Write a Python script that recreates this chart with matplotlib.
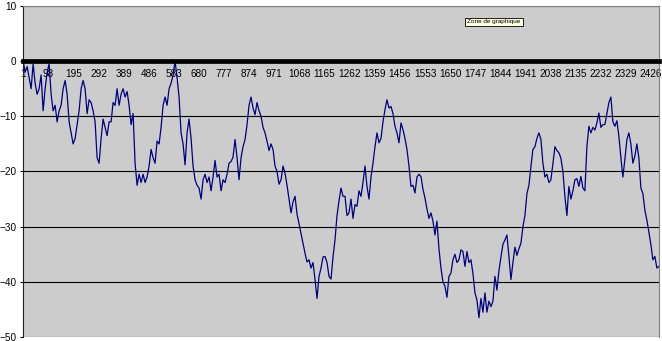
import numpy as np
import matplotlib.pyplot as plt

# number of categories on the x axis (Excel style line chart)
n_points = 2456

# random walk values, evenly spaced along the categories
walk = [
    0, -2, -1, -3, -5, -0.5, -4, -6, -5, -2.5, -9, -5, -2, -0.5, -6, -9, -8, -11, -9, -8,
    -5, -3.5, -6, -11, -13, -15, -14, -11.5, -9, -5, -3.5, -5, -9.5, -7, -7.5, -9, -11, -17.5, -18.5, -14,
    -10.5, -12, -13.5, -11,
    -11, -7.5, -8, -5, -8, -6, -5, -6.5, -5.5, -8, -11.5, -9.5, -18.5, -22.5, -20.5, -22, -20.5, -22, -21, -19,
    -16, -17.5, -18.5, -14.5, -15, -12, -8, -6.5, -8, -5, -4, -2.5, 0, -3, -6.5, -13, -15, -18.8, -13, -10.5,
    -14, -19, -21.5, -22.5, -23, -25, -21.5, -20.5, -22, -21, -23.5, -21, -18, -21, -20.5, -23.5, -21.5, -22, -20.5, -18.5,
    -18.2, -17.4, -14.2, -17.5, -21.5, -17.5, -15.5, -14.2, -11.5, -8, -6.5, -8.5, -9.7, -7.5, -9, -10, -12, -13, -14.5, -16.2,
    -15, -16, -19, -20, -22.3, -21.5, -19, -20.3, -22.5, -25, -27.5, -25.5, -24.5, -27.7, -29.5, -31.3, -33.2, -34.8, -36.4, -36,
    -37.5, -36.5, -39.6, -43, -39, -37.5, -35.5, -35.4, -36.5, -39, -39.5, -35.5, -32.4, -28, -25.3,
    -23, -24.5, -24.5, -28, -27.5, -25, -28.5, -26, -26.3, -23.5, -24.5, -22, -19, -22.7, -25, -21, -18.5, -15.5, -13, -14.8,
    -14, -11, -8.8, -7, -8.5, -8.2, -9.5, -11.8, -13, -14.8, -11.2, -12.4, -14, -16, -19, -22.7, -22.5, -23.9, -21, -20.5,
    -20.9, -23.2, -24.8, -26.8, -28.5, -27.5, -29, -31.5, -29, -34, -37.5, -40, -40.8, -42.8, -39,
    -38.4, -36, -35, -36.5, -36, -34.2, -34.5, -37.2, -34.5, -36.5, -36, -38.5, -42, -43.3, -46.5, -43, -45.5, -42, -45.5, -43.5,
    -44.5, -43.5, -39, -41.5, -38, -35.5, -33.2, -32.4, -31.5, -35.4, -39.6, -36.5, -33.7, -35.2, -34, -33, -30, -28, -24, -22.5,
    -19.1, -16, -15.5, -14, -13, -14.2, -18.5, -21, -20.5, -22, -21.5, -18.6, -15.5, -16.2, -16.6,
    -17.6, -20, -24.5, -28, -22.7, -25, -23.5, -21.5, -21.3, -22.7, -20.9, -23, -23.5, -15.5, -11.8, -13, -12, -12.5, -11.2, -9.4,
    -12, -11.5, -11.5, -9.5, -7.5, -6.5, -11, -11.8, -10.8, -13.6, -17.5, -21, -17.8, -14.2, -13, -15, -18.5, -17.2, -15, -17.5,
    -23, -24, -27, -28.8, -31, -33.2, -36, -35.4, -37.5, -37.2,
]

x_ticks = list(range(1, 2427, 97))
y_ticks = list(range(-50, 11, 10))

plt.rcParams['font.family'] = ['Liberation Sans', 'DejaVu Sans']

fig = plt.figure(figsize=(6.62, 3.41), dpi=100)
ax = fig.add_axes([23 / 662, 1 - 337 / 341, 636 / 662, 331 / 341])
ax.set_facecolor('#cccccc')

x = np.linspace(1, n_points, len(walk))
ax.plot(x, walk, color='#000080', lw=0.9)

ax.set_xlim(0.5, n_points + 0.5)
ax.set_ylim(-50, 10)
ax.set_yticks(y_ticks)
ax.set_xticks(x_ticks)
ax.grid(axis='y', color='black', lw=0.8)
ax.set_axisbelow(True)

ax.spines['bottom'].set_position(('data', 0))
ax.spines['bottom'].set_linewidth(3.4)
ax.spines['bottom'].set_zorder(3)
ax.spines['left'].set_color('#202020')
for s in ['top', 'right']:
    ax.spines[s].set_color('#808080')

ax.tick_params(axis='x', length=0, pad=5.5, labelsize=7.2)
ax.tick_params(axis='y', length=2.2, width=0.8, pad=2.5, labelsize=7.2)

# tooltip left in the screenshot
fig.text(494 / 662, 1 - 22 / 341, 'Zone de graphique', fontsize=4.6, ha='center', va='center',
         bbox=dict(boxstyle='square,pad=0.3', fc='#ffffe1', ec='black', lw=0.6))

fig.savefig('out.png', dpi=100)
